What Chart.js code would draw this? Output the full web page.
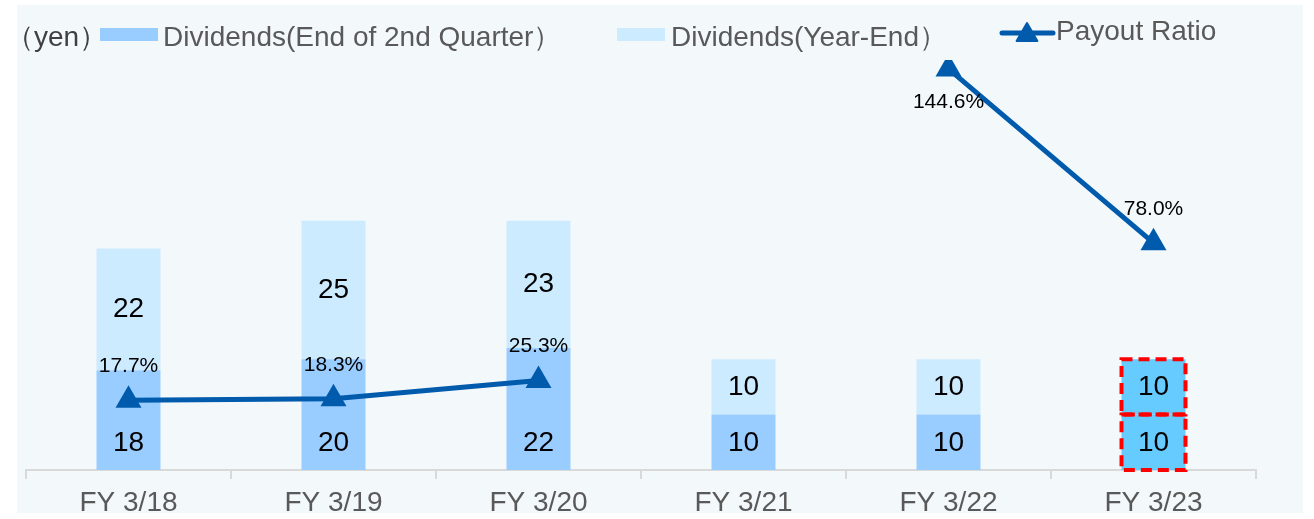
<!DOCTYPE html>
<html lang="en">
<head>
<meta charset="UTF-8"/>
<title>Dividends and Payout Ratio</title>
<style>
  body { margin: 0; background: #fff; }
  #wrap { position: relative; width: 1314px; height: 519px; }
  #panel { position: absolute; left: 17px; top: 5px; width: 1286px; height: 508px; background: #F3F8FB; }
  #chart { position: absolute; left: 0; top: 0; }
</style>
</head>
<body>
<div id="wrap">
  <div id="panel"></div>
  <canvas id="chart" width="1314" height="519"></canvas>
</div>

<script src="https://cdn.jsdelivr.net/npm/chart.js"></script>
<script>
const years = ["FY 3/18", "FY 3/19", "FY 3/20", "FY 3/21", "FY 3/22", "FY 3/23"];
const divQ2 = [18, 20, 22, 10, 10, 10];
const divYearEnd = [22, 25, 23, 10, 10, 10];
const payoutRatio = [17.7, 18.3, 25.3, null, 144.6, 78.0];

const unitLabel = "（yen）";
const q2Name = "Dividends(End of 2nd Quarter）";
const yeName = "Dividends(Year-End）";
const payoutName = "Payout Ratio";

// styling
const FONT = "'Liberation Sans', Arial, sans-serif";
const Q2_COLOR = "#99CCFF";
const YE_COLOR = "#CCEBFF";
const HILITE_COLOR = "#66CCFF";
const LINE_COLOR = "#005BAC";
const highlightIndex = 5;
const pctLabelSide = ["above", "above", "above", null, "below", "above"];

const barColors = (base) => years.map((_, i) => i === highlightIndex ? HILITE_COLOR : base);

function drawTriangle(ctx, x, y, r) {
  ctx.beginPath();
  for (let k = 0; k < 3; k++) {
    const a = k * 2 * Math.PI / 3;
    const px = x + Math.sin(a) * r, py = y - Math.cos(a) * r;
    if (k === 0) ctx.moveTo(px, py); else ctx.lineTo(px, py);
  }
  ctx.closePath();
  ctx.fill();
  ctx.stroke();
}

// labels, red dashed frame and custom legend
const decorations = {
  id: "decorations",
  afterDatasetsDraw(chart) {
    const ctx = chart.ctx;
    const q2Meta = chart.getDatasetMeta(0);
    const yeMeta = chart.getDatasetMeta(1);
    const lineMeta = chart.getDatasetMeta(2);

    ctx.save();
    // dashed frame round the highlighted bar segments
    ctx.strokeStyle = "#FF0000";
    ctx.lineWidth = 4;
    ctx.setLineDash([11, 6]);
    [q2Meta, yeMeta].forEach(meta => {
      const b = meta.data[highlightIndex];
      const top = Math.min(b.y, b.base);
      ctx.strokeRect(b.x - b.width / 2, top, b.width, Math.abs(b.base - b.y));
    });
    ctx.setLineDash([]);

    // bar values
    ctx.fillStyle = "#000";
    ctx.font = "28px " + FONT;
    ctx.textAlign = "center";
    ctx.textBaseline = "middle";
    q2Meta.data.forEach((b, i) => {
      ctx.fillText(String(divQ2[i]), b.x, b.base - 27);
    });
    yeMeta.data.forEach((b, i) => {
      ctx.fillText(String(divYearEnd[i]), b.x, (b.y + b.base) / 2);
    });

    // payout ratio values
    ctx.font = "21px " + FONT;
    lineMeta.data.forEach((p, i) => {
      if (payoutRatio[i] == null) return;
      const dy = pctLabelSide[i] === "below" ? 33 : -34;
      ctx.fillText(payoutRatio[i].toFixed(1) + "%", p.x, p.y + dy);
    });
    ctx.restore();
  },
  afterDraw(chart) {
    const ctx = chart.ctx;
    ctx.save();
    ctx.textBaseline = "middle";
    ctx.textAlign = "left";
    ctx.font = "28px " + FONT;

    ctx.fillStyle = "#404040";
    ctx.fillText(unitLabel, 6, 38);

    ctx.fillStyle = Q2_COLOR;
    ctx.fillRect(100, 28, 58, 13);
    ctx.fillStyle = "#595959";
    ctx.fillText(q2Name, 163, 38);

    ctx.fillStyle = YE_COLOR;
    ctx.fillRect(617, 28, 48, 13);
    ctx.fillStyle = "#595959";
    ctx.fillText(yeName, 671, 38);

    ctx.strokeStyle = LINE_COLOR;
    ctx.fillStyle = LINE_COLOR;
    ctx.lineWidth = 5;
    ctx.lineCap = "round";
    ctx.beginPath();
    ctx.moveTo(1002, 33);
    ctx.lineTo(1053, 33);
    ctx.stroke();
    ctx.lineWidth = 2;
    ctx.lineJoin = "round";
    drawTriangle(ctx, 1027, 35, 12);
    ctx.fillStyle = "#595959";
    ctx.fillText(payoutName, 1056, 32);
    ctx.restore();
  }
};

new Chart(document.getElementById("chart"), {
  type: "bar",
  data: {
    labels: years,
    datasets: [
      {
        label: q2Name,
        data: divQ2,
        backgroundColor: barColors(Q2_COLOR),
        yAxisID: "y",
        order: 1,
        categoryPercentage: 1,
        barPercentage: 0.312
      },
      {
        label: yeName,
        data: divYearEnd,
        backgroundColor: barColors(YE_COLOR),
        yAxisID: "y",
        order: 1,
        categoryPercentage: 1,
        barPercentage: 0.312
      },
      {
        type: "line",
        label: payoutName,
        data: payoutRatio,
        yAxisID: "y1",
        order: 0,
        spanGaps: false,
        borderColor: LINE_COLOR,
        borderWidth: 5,
        borderCapStyle: "round",
        borderJoinStyle: "round",
        tension: 0,
        pointStyle: "triangle",
        pointRadius: 13,
        pointBackgroundColor: LINE_COLOR,
        pointBorderColor: LINE_COLOR,
        pointBorderWidth: 2
      }
    ]
  },
  options: {
    responsive: false,
    animation: false,
    layout: { padding: { left: 26, right: 58, top: 60, bottom: 0 } },
    plugins: {
      legend: { display: false },
      tooltip: { enabled: false }
    },
    scales: {
      x: {
        stacked: true,
        grid: {
          display: true,
          drawOnChartArea: false,
          drawTicks: true,
          tickLength: 9,
          color: "#D9D9D9",
          lineWidth: 2,
          offset: true
        },
        border: { display: true, color: "#D9D9D9", width: 2 },
        ticks: {
          color: "#595959",
          font: { family: FONT, size: 28 },
          padding: 7,
          maxRotation: 0
        },
        afterFit(scale) { scale.height = 49; }
      },
      y: {
        stacked: true,
        display: false,
        min: 0,
        max: 74
      },
      y1: {
        display: false,
        position: "right",
        min: -9,
        max: 148
      }
    }
  },
  plugins: [decorations]
});
</script>
</body>
</html>
